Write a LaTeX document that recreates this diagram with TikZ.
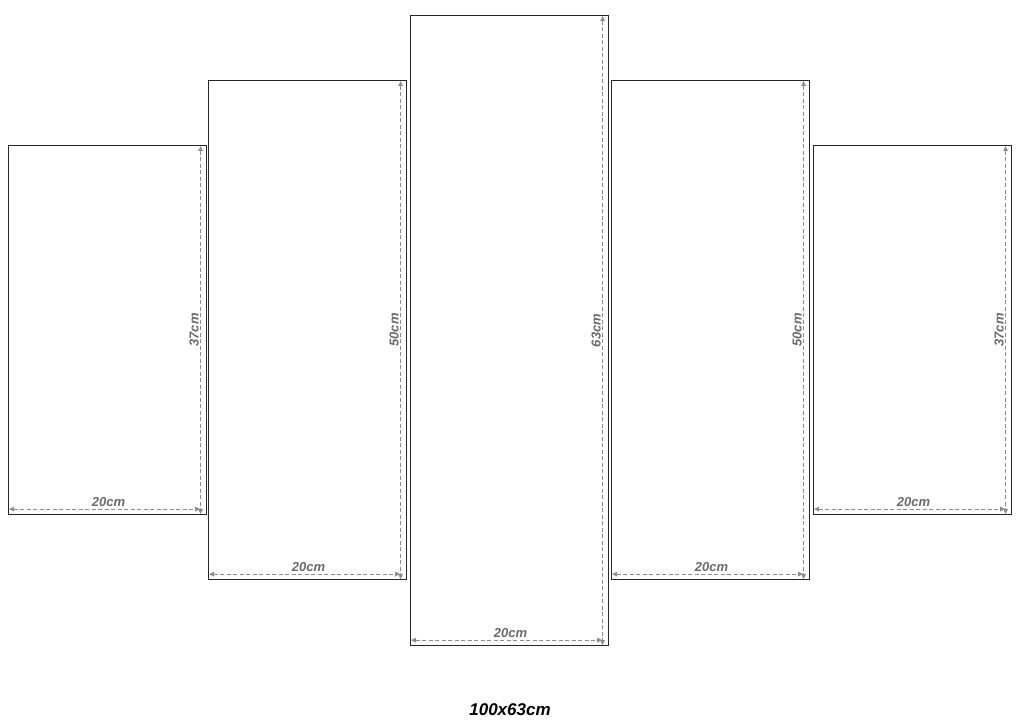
\documentclass[tikz,border=0pt]{standalone}
\usepackage{fontspec}
\setmainfont{Liberation Sans}
\usetikzlibrary{arrows.meta}
\definecolor{dimgray}{HTML}{8C8C8C}
\definecolor{labgray}{HTML}{6A6A6A}
\tikzset{
  panel/.style={draw=black!85, line width=1.1pt, inner sep=0pt, minimum width=198pt, anchor=north west},
  dimline/.style={draw=dimgray, line width=1.1pt, dash pattern=on 4pt off 2.5pt, {Triangle[length=5pt,width=4.5pt]}-{Triangle[length=5pt,width=4.5pt]}},
  dimlabel/.style={text=labgray, font=\fontsize{13}{13}\selectfont\bfseries\itshape, inner sep=0pt},
  title/.style={text=black, font=\fontsize{17}{17}\selectfont\bfseries\itshape, inner sep=0pt}
}
\begin{document}
\begin{tikzpicture}[x=1pt,y=-1pt]
\useasboundingbox (0,0) rectangle (1020,727);
\foreach \n/\x/\y/\h/\lab in {1/8/145/369/37cm, 2/208/80/499/50cm, 3/410/15/630/63cm, 4/611/80/499/50cm, 5/813/145/369/37cm}{
  \node[panel, minimum height=\h pt] (p\n) at (\x,\y) {};
  \coordinate (vt\n) at ([xshift=-6.5pt,yshift=-1pt]p\n.north east);
  \coordinate (vb\n) at ([xshift=-6.5pt,yshift=1pt]p\n.south east);
  \coordinate (hl\n) at ([xshift=1pt,yshift=6pt]p\n.south west);
  \coordinate (hr\n) at ([xshift=-7pt,yshift=6pt]p\n.south east);
  \draw[dimline] (vt\n) -- (vb\n);
  \draw[dimline] (hl\n) -- (hr\n);
  \node[dimlabel, rotate=90] (vl\n) at ([xshift=-13pt]p\n.east) {\lab};
  \node[dimlabel] (hlab\n) at ([xshift=1pt,yshift=13pt]p\n.south) {20cm};
}
\node[title] (t) at (510,710) {100x63cm};
\end{tikzpicture}
\end{document}
